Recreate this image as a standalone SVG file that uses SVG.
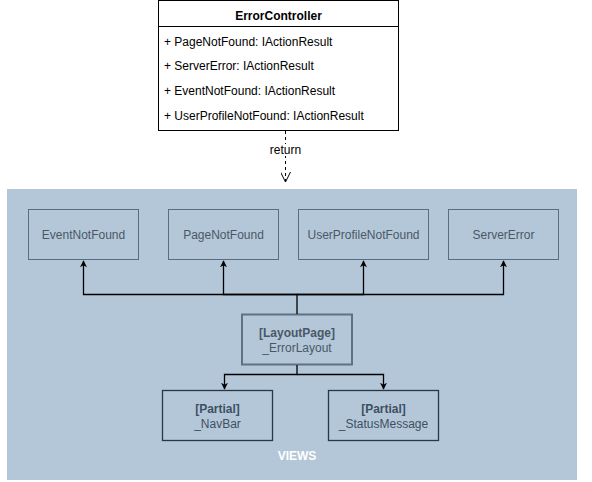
<svg xmlns="http://www.w3.org/2000/svg" width="592" height="482" viewBox="0 0 592 482">
<defs>
<style>
text{font-family:"Liberation Sans",Arial,sans-serif;font-size:12px;}
.cls{fill:#ffffff;stroke:#000000;stroke-width:1;}
.ct{fill:#000000;}
.ctb{fill:#000000;font-weight:bold;text-anchor:middle;}
.view{fill:#B4C7D8;stroke:#5a6d80;stroke-width:1;}
.vt{fill:#4a5866;text-anchor:middle;}
.lay{fill:#B4C7D8;stroke:#5f7184;stroke-width:2;}
.part{fill:#B4C7D8;stroke:#23384c;stroke-width:1.3;}
.pt{fill:#3d5063;text-anchor:middle;}
.conn{fill:none;stroke:#000000;stroke-width:1.3;}
</style>
<marker id="ah" viewBox="0 0 10 10" refX="9" refY="5" markerWidth="7" markerHeight="7" orient="auto" markerUnits="userSpaceOnUse">
<path d="M0,0 L10,5 L0,10 L3,5 Z" fill="#000000"/>
</marker>
<marker id="oh" viewBox="0 0 10 10" refX="10" refY="5" markerWidth="10" markerHeight="10" orient="auto" markerUnits="userSpaceOnUse">
<path d="M0,0 L10,5 L0,10" fill="none" stroke="#000000" stroke-width="1"/>
</marker>
</defs>
<rect x="0" y="0" width="592" height="482" fill="#ffffff"/>

<g id="views-container">
<rect x="7" y="189" width="570" height="291" fill="#B4C7D8" stroke="none"/>
<text x="297" y="460" fill="#ffffff" font-weight="bold" font-size="14" text-anchor="middle">VIEWS</text>
</g>

<g id="ErrorController">
<rect class="cls" x="158.5" y="0.5" width="240" height="130"/>
<line x1="158.5" y1="26.5" x2="398.5" y2="26.5" stroke="#000000" stroke-width="1"/>
<text class="ctb" x="278.5" y="19.5">ErrorController</text>
<text class="ct" x="164" y="45.5">+ PageNotFound: IActionResult</text>
<text class="ct" x="164" y="69.5">+ ServerError: IActionResult</text>
<text class="ct" x="164" y="95">+ EventNotFound: IActionResult</text>
<text class="ct" x="164" y="120">+ UserProfileNotFound: IActionResult</text>
</g>

<g id="EventNotFound">
<rect class="view" x="28.5" y="209.5" width="110" height="50"/>
<text class="vt" x="83.5" y="238.5">EventNotFound</text>
</g>
<g id="PageNotFound">
<rect class="view" x="168.5" y="209.5" width="110" height="50"/>
<text class="vt" x="223.5" y="238.5">PageNotFound</text>
</g>
<g id="UserProfileNotFound">
<rect class="view" x="298.5" y="209.5" width="130" height="50"/>
<text class="vt" x="363.5" y="238.5">UserProfileNotFound</text>
</g>
<g id="ServerError">
<rect class="view" x="448.5" y="209.5" width="110" height="50"/>
<text class="vt" x="503.5" y="238.5">ServerError</text>
</g>

<g id="ErrorLayout">
<rect class="lay" x="242" y="314.5" width="110" height="50"/>
<text class="vt" x="297" y="336.5" font-weight="bold">[LayoutPage]</text>
<text class="vt" x="297" y="351.5">_ErrorLayout</text>
</g>

<g id="NavBar">
<rect class="part" x="162.5" y="390.5" width="110" height="50"/>
<text class="pt" x="217.5" y="412.5" font-weight="bold">[Partial]</text>
<text class="pt" x="217.5" y="427.5">_NavBar</text>
</g>
<g id="StatusMessage">
<rect class="part" x="328.5" y="390.5" width="110" height="50"/>
<text class="pt" x="383.5" y="412.5" font-weight="bold">[Partial]</text>
<text class="pt" x="383.5" y="427.5">_StatusMessage</text>
</g>

<g id="connectors">
<line x1="285.5" y1="131" x2="285.5" y2="182" stroke="#000000" stroke-width="1" stroke-dasharray="3,3" marker-end="url(#oh)"/>
<rect x="270" y="144" width="31" height="12" fill="#ffffff"/>
<text x="285.5" y="153.5" fill="#000000" font-size="10" text-anchor="middle">return</text>
<path class="conn" d="M297,314 L297,294.5 L83.5,294.5 L83.5,261" marker-end="url(#ah)"/>
<path class="conn" d="M297,294.5 L223.5,294.5 L223.5,261" marker-end="url(#ah)"/>
<path class="conn" d="M297,294.5 L363.5,294.5 L363.5,261" marker-end="url(#ah)"/>
<path class="conn" d="M297,294.5 L503.5,294.5 L503.5,261" marker-end="url(#ah)"/>
<path class="conn" d="M297,365 L297,374.5 L224.5,374.5 L224.5,389" marker-end="url(#ah)"/>
<path class="conn" d="M297,374.5 L383.5,374.5 L383.5,389" marker-end="url(#ah)"/>
</g>
</svg>
